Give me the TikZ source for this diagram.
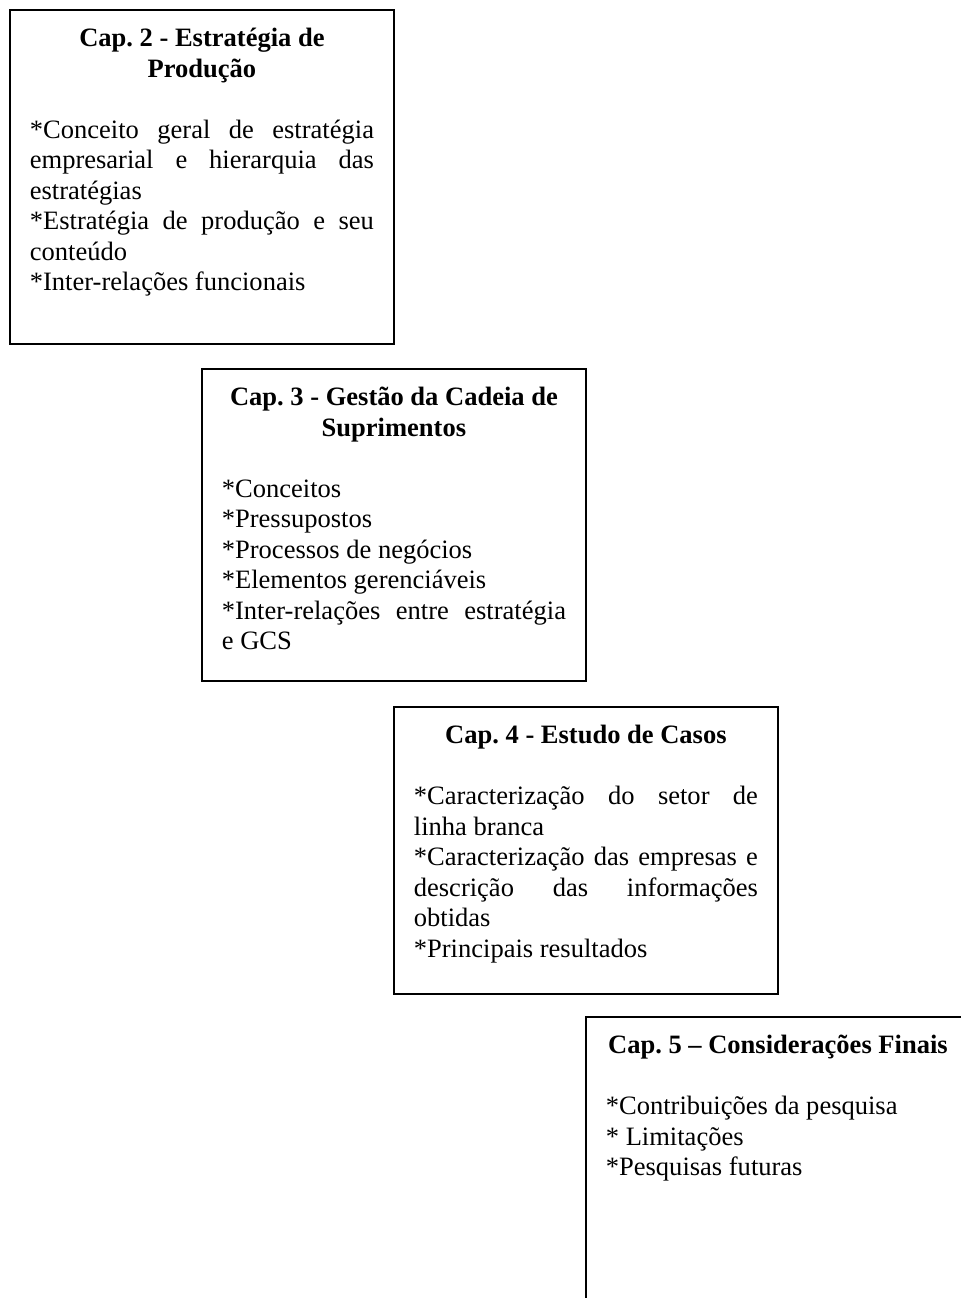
\documentclass[tikz,border=0pt]{standalone}
\usepackage{fontspec}
\setmainfont{Liberation Serif}
\frenchspacing
\newlength{\chapw}
\setlength{\chapw}{155.7pt}
\newcommand{\chapcontent}[3]{\parbox[t][#1][t]{\chapw}{\fontsize{12pt}{13.8pt}\selectfont
    \hyphenpenalty=10000\exhyphenpenalty=10000\emergencystretch=2em
    {\centering\bfseries\rule{0pt}{16.6pt}#2\par}
    \vspace{13.8pt}
    #3}}
\tikzset{chapbox/.style={draw, line width=0.9pt, inner xsep=9pt, inner ysep=0pt, anchor=north west}}
\begin{document}
\begin{tikzpicture}[x=0.4525pt, y=-0.4525pt]
    \useasboundingbox (0,0) rectangle (960,1298);

    \node[chapbox] (cap2) at (9,9) {\chapcontent{151.1pt}{Cap. 2 - Estratégia de\\Produção}{%
        *Conceito geral de estratégia empresarial e hierarquia das estratégias\par
        *Estratégia de produção e seu conteúdo\par
        *Inter-relações funcionais}};
    \node[chapbox] (cap3) at (201,368) {\chapcontent{141.2pt}{Cap. 3 - Gestão da Cadeia de\\Suprimentos}{%
        *Conceitos\par
        *Pressupostos\par
        *Processos de negócios\par
        *Elementos gerenciáveis\par
        *Inter-relações entre estratégia\linebreak e GCS}};
    \node[chapbox] (cap4) at (393,706) {\chapcontent{129.9pt}{Cap. 4 - Estudo de Casos}{%
        *Caracterização do setor de linha branca\par
        *Caracterização das empresas e\linebreak descrição das informações obtidas\par
        *Principais resultados}};
    \node[chapbox] (cap5) at (585,1016) {\chapcontent{180pt}{Cap. 5 – Considerações Finais}{%
        *Contribuições da pesquisa\par
        * Limitações\par
        *Pesquisas futuras}};
\end{tikzpicture}
\end{document}
